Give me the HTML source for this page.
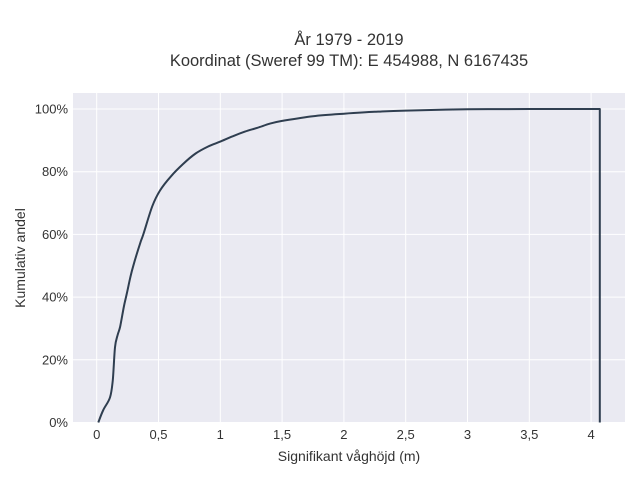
<!DOCTYPE html>
<html><head><meta charset="utf-8"><style>
body{margin:0;background:#fff;font-family:"Liberation Sans",sans-serif;}
svg text{font-family:"Liberation Sans",sans-serif;fill:#333333;}
</style></head><body>
<svg id="chart" width="640" height="480" xmlns="http://www.w3.org/2000/svg">
<text x="349" y="45" font-size="16.5" text-anchor="middle">År 1979 - 2019</text>
<text x="349" y="66" font-size="16.5" text-anchor="middle">Koordinat (Sweref 99 TM): E 454988, N 6167435</text>
<rect x="73" y="93" width="552" height="330" fill="#eaeaf2"/>
<g id="grid"></g>
<g id="ticks"></g>
<path id="curve" fill="none" stroke="#2f3e50" stroke-width="2" stroke-linejoin="round"/>
<text x="349" y="461" font-size="14" text-anchor="middle">Signifikant våghöjd (m)</text>
<text transform="translate(25,258) rotate(-90)" font-size="14" text-anchor="middle">Kumulativ andel</text>
</svg>
<script>
const xVals=[0.013,0.053,0.108,0.13,0.148,0.17,0.189,0.22,0.243,0.27,0.296,0.35,0.377,0.45,0.512,0.6,0.7,0.8,0.9,1.0,1.1,1.2,1.3,1.4,1.5,1.75,2.0,2.25,2.5,3.0,3.5,4.07];
const cumFrac=[0,0.04,0.08,0.135,0.24,0.28,0.305,0.37,0.41,0.46,0.50,0.57,0.60,0.69,0.74,0.785,0.825,0.858,0.88,0.896,0.913,0.928,0.94,0.953,0.962,0.977,0.985,0.991,0.995,0.999,1.0,1.0];
const xTicks=[0,0.5,1,1.5,2,2.5,3,3.5,4];
const xTickLabels=["0","0,5","1","1,5","2","2,5","3","3,5","4"];
const yTicks=[0,0.2,0.4,0.6,0.8,1];
const yTickLabels=["0%","20%","40%","60%","80%","100%"];
const sx=v=>96.7+v*123.6;
const sy=v=>422.5-v*313.5;
const NS="http://www.w3.org/2000/svg";
const grid=document.getElementById('grid'),ticks=document.getElementById('ticks');
xTicks.forEach((t,i)=>{
 const l=document.createElementNS(NS,'line');
 
 
 l.setAttribute('x1',sx(t));l.setAttribute('x2',sx(t));l.setAttribute('y1',93);l.setAttribute('y2',423);
 l.setAttribute('stroke','#fff');l.setAttribute('stroke-width','1');grid.appendChild(l);
 const tx=document.createElementNS(NS,'text');
 
 
 tx.setAttribute('x',sx(t));tx.setAttribute('y',439);tx.setAttribute('font-size','13');tx.setAttribute('text-anchor','middle');
 tx.textContent=xTickLabels[i];ticks.appendChild(tx);
});
yTicks.forEach((t,i)=>{
 const l=document.createElementNS(NS,'line');
 
 
 l.setAttribute('x1',73);l.setAttribute('x2',625);l.setAttribute('y1',sy(t));l.setAttribute('y2',sy(t));
 l.setAttribute('stroke','#fff');l.setAttribute('stroke-width','1');grid.appendChild(l);
 const tx=document.createElementNS(NS,'text');
 
 
 tx.setAttribute('x',68);tx.setAttribute('y',sy(t)+4.5);tx.setAttribute('font-size','13');tx.setAttribute('text-anchor','end');
 tx.textContent=yTickLabels[i];ticks.appendChild(tx);
});
const pts=xVals.map((x,i)=>[sx(x),sy(cumFrac[i])]);
let d='M'+pts[0][0].toFixed(1)+','+pts[0][1].toFixed(1);
for(let i=0;i<pts.length-1;i++){
 const p0=pts[Math.max(0,i-1)],p1=pts[i],p2=pts[i+1],p3=pts[Math.min(pts.length-1,i+2)];
 const c1=[p1[0]+(p2[0]-p0[0])/6,p1[1]+(p2[1]-p0[1])/6];
 const c2=[p2[0]-(p3[0]-p1[0])/6,p2[1]-(p3[1]-p1[1])/6];
 d+='C'+c1[0].toFixed(1)+','+c1[1].toFixed(1)+' '+c2[0].toFixed(1)+','+c2[1].toFixed(1)+' '+p2[0].toFixed(1)+','+p2[1].toFixed(1);
}
d+='L'+sx(xVals[xVals.length-1]).toFixed(1)+','+sy(0).toFixed(1);
document.getElementById('curve').setAttribute('d',d);
</script>
</body></html>
